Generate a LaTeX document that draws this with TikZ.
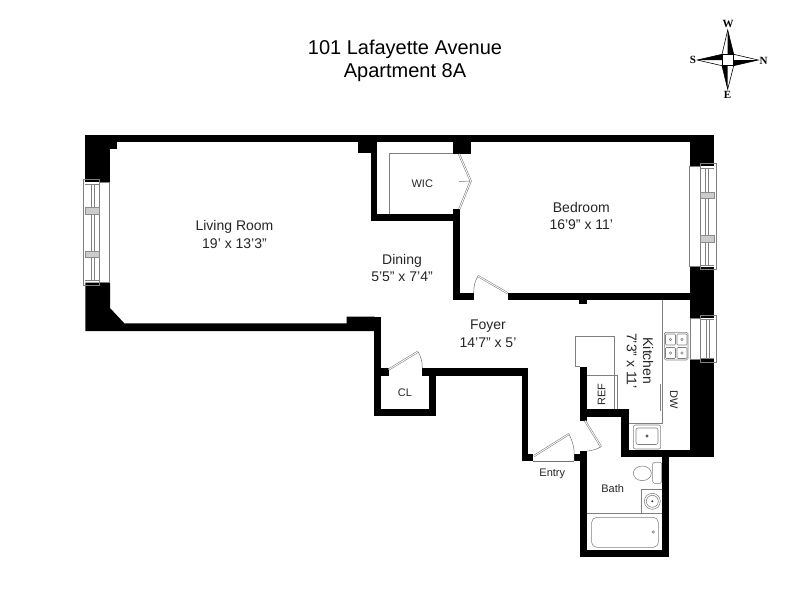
\documentclass[tikz,border=0pt]{standalone}
\usepackage{fontspec}
\setmainfont{Liberation Sans}
\newfontfamily\compassfont{Liberation Serif}

\tikzstyle {wall} = [fill=black, draw=none]
\tikzstyle {fixture} = [draw=black!50, line width=0.55pt]
\tikzstyle {leaf} = [draw=black!55, line width=0.5pt, double=white, double distance=0.9pt]
\tikzstyle {swing} = [draw=black!55, line width=0.5pt]
\tikzstyle {mullion} = [fill=black!20, draw=black!45, line width=0.4pt]
\tikzstyle {titletext} = [font=\fontsize{20}{24}\selectfont, inner sep=0pt]
\tikzstyle {bigroom} = [font=\fontsize{14}{17}\selectfont, inner sep=0pt, text=black!85]
\tikzstyle {smallroom} = [font=\fontsize{11}{13}\selectfont, inner sep=0pt, text=black!85]
\tikzstyle {pointtext} = [font=\compassfont\bfseries\fontsize{11}{13}\selectfont, inner sep=0pt]

\begin{document}
\begin{tikzpicture}[x=1pt, y=-1pt]
    \useasboundingbox (0,0) rectangle (800,600);
    \fill[white] (0,0) rectangle (800,600);

    % walls
    \foreach \xa/\ya/\xb/\yb in {
        85.3/135/714/142.3, 85.3/135/110/182.3, 110/142/116.7/149,
        374/316.7/381.3/416.3, 374/409.3/436/416.3, 429/368.3/436/416.3,
        381/368.3/388.7/375.7, 422.3/368.3/528.3/375.7, 521.7/368.3/528.3/461,
        521.7/454/533.3/461, 574/454/587.3/461, 579.7/450.7/587.3/557.3,
        579.7/550/669.3/557.3, 662/450/669.3/557.3, 621/450/714/457.3,
        621/409.3/628.7/457.3, 579.7/409.3/628.7/416.7, 579.7/366.7/587.3/420.7,
        690/359.3/714/457.3, 690/266.7/714/318.3, 690/135/714/166,
        507.7/292.7/690/300.3, 579.3/300/587.3/304.3, 453/292.7/474/300.3,
        453/209.3/460.3/300.3, 370.7/213.7/460.3/221, 370.7/142/377.3/221,
        357.7/142/377.3/153.3, 453.3/142/471/154}
        \fill[wall] (\xa,\ya) rectangle (\xb,\yb);
    \fill[wall] (85.3,282.7) -- (110,282.7) -- (110,308) -- (124.3,323.3) -- (346.7,323.3)
        -- (346.7,316.7) -- (374.5,316.7) -- (374.5,331) -- (85.3,331) -- cycle;

    % left window
    \draw[fixture] (83.3,179.3) rectangle (99.3,285.7);
    \draw[fixture] (99.3,182.3) rectangle (109.3,282.7);
    \draw[fixture] (91.7,184) -- (91.7,280.7) (94,184) -- (94,280.7);
    \draw[fixture] (85.3,184) -- (99.3,184) (85.3,280.7) -- (99.3,280.7);
    \draw[mullion] (85.3,207.3) rectangle (99.3,214);
    \draw[mullion] (85.3,250.7) rectangle (99.3,257.3);

    % bedroom window
    \draw[fixture] (700,163.3) rectangle (716.7,269.3);
    \draw[fixture] (689.7,166) rectangle (700,266.7);
    \draw[fixture] (705.7,168.3) -- (705.7,265) (708.3,168.3) -- (708.3,265);
    \draw[fixture] (700,168.3) -- (714,168.3) (700,265) -- (714,265);
    \draw[mullion] (700,191.7) rectangle (714,198.3);
    \draw[mullion] (700,235) rectangle (714,241.7);

    % kitchen window
    \draw[fixture] (700,315.7) rectangle (716.7,362.3);
    \draw[fixture] (690,318.3) rectangle (700,359.3);
    \draw[fixture] (706.7,319.3) -- (706.7,358.3) (709,319.3) -- (709,358.3);
    \draw[fixture] (700,319.3) -- (714,319.3) (700,358.3) -- (714,358.3);

    % doors
    \draw[leaf] (388.7,369.5) -- (418,351.7);
    \draw[swing] (418,351.7) to[bend left=15] (422.3,368.3);
    \draw[leaf] (507.7,293.3) -- (478,276);
    \draw[swing] (478,276) to[bend right=15] (473.7,293);
    \draw[leaf] (459,154) -- (470.7,181) -- (459.3,209);
    \draw[swing] (459,181.5) -- (470.7,181);
    \draw[leaf] (534,456) -- (569,434);
    \draw[swing] (569,434) to[bend left=15] (574,461);
    \draw[swing] (533.3,461) -- (574,461);
    \draw[leaf] (585,420.7) -- (601,446.7);
    \draw[swing] (601,446.7) to[bend left=12] (587.3,451);

    % closet and kitchen lines
    \draw[fixture] (389,213.7) -- (389,153.3) -- (453,153.3);
    \draw[fixture] (662.7,300.3) -- (662.7,423.3) -- (628.7,423.3);
    \draw[fixture] (660.7,384) -- (660.7,411);
    \draw[fixture] (579.7,366.7) -- (575.7,366.7) -- (575.7,336.3) -- (614.7,336.3) -- (614.7,409.3);
    \draw[fixture] (587.3,375.7) -- (617.3,375.7) -- (617.3,409.3);

    % stove
    \draw[fixture, rounded corners=1.5pt] (664.3,332.3) rectangle (688,360);
    \foreach \bx/\by in {665.5/334, 677/334, 665.5/347.5, 677/347.5} {
        \draw[fixture, rounded corners=1pt] (\bx,\by) rectangle ++(10,11);
        \draw[fixture] (\bx+5,\by+5.5) circle (1.3);
    }

    % kitchen sink
    \draw[fixture, rounded corners=2pt] (633.3,425) rectangle (660.7,449);
    \draw[fixture, rounded corners=2pt] (636,428) rectangle (658,444.5);
    \draw[black!70, line width=0.7pt] (647,436) circle (1.2);

    % bath fixtures
    \draw[fixture] (642.3,473.3) ellipse (9 and 7.3);
    \draw[fixture, rounded corners=1.5pt] (652.7,462.3) rectangle (661.7,483.3);
    \draw[fixture] (662,489.3) -- (641.3,489.3) -- (641.3,513.7);
    \draw[fixture] (652.3,501.3) circle (8);
    \draw[fixture] (652.3,501.3) circle (6);
    \fill[black!80] (652.3,501.3) circle (1.1);
    \draw[fixture] (587.3,513.7) -- (662,513.7);
    \draw[fixture, rounded corners=5pt] (591.7,517.3) rectangle (658.3,547.3);
    \draw[fixture] (653.3,532) circle (1.2);

    % labels
    \node [titletext] (title) at (405,49) {101 Lafayette Avenue};
    \node [titletext] (unit) at (405,73) {Apartment 8A};
    \node [bigroom] (living) at (234.5,227) {Living Room};
    \node [bigroom] (livingsize) at (234.5,243.5) {19' x 13'3"};
    \node [bigroom] (bedroom) at (581.3,207.5) {Bedroom};
    \node [bigroom] (bedroomsize) at (581.3,224.5) {16'9" x 11'};
    \node [bigroom] (dining) at (402,261) {Dining};
    \node [bigroom] (diningsize) at (402,277) {5'5" x 7'4"};
    \node [bigroom] (foyer) at (488,326) {Foyer};
    \node [bigroom] (foyersize) at (488,342.5) {14'7" x 5'};
    \node [bigroom, rotate=-90] (kitchen) at (648,361) {Kitchen};
    \node [bigroom, rotate=-90] (kitchensize) at (631.7,361) {7'3" x 11'};
    \node [smallroom] (wic) at (422.3,184) {WIC};
    \node [smallroom] (cl) at (405,393) {CL};
    \node [smallroom, rotate=90] (ref) at (601.7,394.3) {REF};
    \node [smallroom, rotate=-90] (dw) at (674,399.3) {DW};
    \node [smallroom] (entry) at (552.3,473.5) {Entry};
    \node [smallroom] (bath) at (612.7,488.7) {Bath};

    % compass
    \draw[black, line width=0.6pt] (727.7,30) -- (722,54.3) -- (697.3,60) -- (722,65.7)
        -- (727.7,89.3) -- (733.7,65.7) -- (758.3,60) -- (733.7,54.3) -- cycle;
    \fill[black] (727.7,30) -- (733.7,54.3) -- (727.7,54.3) -- cycle;
    \fill[black] (758.3,60) -- (733.7,65.7) -- (733.7,60) -- cycle;
    \fill[black] (727.7,89.3) -- (722,65.7) -- (727.7,65.7) -- cycle;
    \fill[black] (697.3,60) -- (722,54.3) -- (722,60) -- cycle;
    \draw[black, fill=white, line width=0.6pt] (722,54.3) rectangle (733.7,65.7);
    \node [pointtext] (north) at (763.5,60.5) {N};
    \node [pointtext] (south) at (693,59.5) {S};
    \node [pointtext] (west) at (728,23.5) {W};
    \node [pointtext] (east) at (727.5,95) {E};
\end{tikzpicture}
\end{document}
